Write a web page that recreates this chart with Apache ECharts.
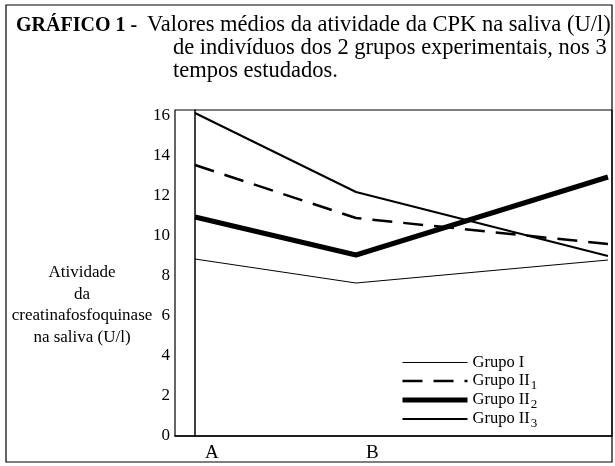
<!DOCTYPE html>
<html>
<head>
<meta charset="utf-8">
<script src="https://cdn.jsdelivr.net/npm/echarts@6/dist/echarts.min.js"></script>
<style>
html,body{margin:0;padding:0;background:#fff;}
#main{width:615px;height:466px;}
</style>
</head>
<body>
<div id="main"></div>
<script>
// tempos estudados (A, B e o terceiro sem rótulo), posição relativa no eixo
var tempos = [0, 1, 2.565];
var rotulosTempo = ['A', 'B', ''];
var grupos = ['Grupo I', 'Grupo II1', 'Grupo II2', 'Grupo II3'];
var grupoI = [8.85, 7.65, 8.8];
var grupoII1 = [13.55, 10.9, 9.6];
var grupoII2 = [10.95, 9.05, 12.95];
var grupoII3 = [16.15, 12.2, 9.0];

var fonte = '"Liberation Serif", "Times New Roman", serif';

function pares(v){
  var out = [];
  for (var i = 0; i < v.length; i++) out.push([tempos[i], v[i]]);
  return out;
}

var estilos = [
  {color: '#000', width: 1},
  {color: '#000', width: 2.5, type: [20, 11]},
  {color: '#000', width: 5},
  {color: '#000', width: 2}
];
var valores = [grupoI, grupoII1, grupoII2, grupoII3];

var myChart = echarts.init(document.getElementById('main'));
var option = {
  backgroundColor: '#fff',
  animation: false,
  textStyle: {fontFamily: fonte, color: '#000'},
  grid: {
    left: 175, top: 110, width: 437, height: 326,
    show: true, borderColor: '#000', borderWidth: 1.2
  },
  xAxis: {
    type: 'value',
    min: -0.124,
    max: 2.59,
    splitLine: {show: false},
    axisTick: {show: false},
    axisLine: {show: true, lineStyle: {color: '#000', width: 1.5}},
    axisLabel: {
      customValues: [tempos[0], tempos[1]],
      formatter: function(v){
        var i = tempos.indexOf(v);
        return i >= 0 ? rotulosTempo[i] : '';
      },
      align: 'left',
      padding: [0, 0, 0, 10],
      margin: 8,
      fontSize: 19,
      fontFamily: fonte,
      color: '#000'
    }
  },
  yAxis: {
    type: 'value',
    min: 0,
    max: 16.3,
    interval: 2,
    splitLine: {show: false},
    axisTick: {show: false},
    axisLine: {show: true, lineStyle: {color: '#000', width: 1.5}},
    axisLabel: {
      showMaxLabel: false,
      margin: 5,
      fontSize: 17,
      fontFamily: fonte,
      color: '#000'
    }
  },
  legend: {
    orient: 'vertical',
    left: 395,
    top: 347,
    itemWidth: 65,
    itemHeight: 14,
    itemGap: -3,
    itemStyle: {color: 'rgba(0,0,0,0)', borderWidth: 0, opacity: 0},
    data: grupos.map(function(g, i){
      return {name: g, lineStyle: {width: estilos[i].width, type: estilos[i].type || 'solid', color: '#000'}};
    }),
    formatter: function(n){
      return n.replace(/(\d)$/, '{s|$1}');
    },
    textStyle: {
      fontFamily: fonte,
      fontSize: 16.5,
      lineHeight: 21,
      color: '#000',
      padding: [0, 0, 0, 0],
      rich: {
        s: {fontSize: 13, fontFamily: fonte, color: '#000', lineHeight: 13, padding: [9, 0, 0, 1]}
      }
    }
  },
  graphic: [
    {type: 'rect', shape: {x: 6, y: 5, width: 606, height: 457},
     style: {fill: null, stroke: '#000', lineWidth: 1.2}, silent: true},
    {type: 'text', left: 16, top: 16,
     style: {text: 'GRÁFICO 1 -', font: 'bold 20px ' + fonte, fill: '#000'}},
    {type: 'text', left: 147, top: 14,
     style: {text: 'Valores médios da atividade da CPK na saliva (U/l)', font: '22.5px ' + fonte, fill: '#000'}},
    {type: 'text', left: 173, top: 37,
     style: {text: 'de indivíduos dos 2 grupos experimentais, nos 3', font: '22.5px ' + fonte, fill: '#000'}},
    {type: 'text', left: 173, top: 60,
     style: {text: 'tempos estudados.', font: '22.5px ' + fonte, fill: '#000'}},
    {type: 'text', x: 82, y: 262,
     style: {text: 'Atividade\nda\ncreatinafosfoquinase\nna saliva (U/l)', font: '17px ' + fonte,
       fill: '#000', align: 'center', lineHeight: 21.5}}
  ],
  series: grupos.map(function(g, i){
    return {name: g, type: 'line', symbol: 'none', data: pares(valores[i]), lineStyle: estilos[i]};
  })
};
myChart.setOption(option);
</script>
</body>
</html>
